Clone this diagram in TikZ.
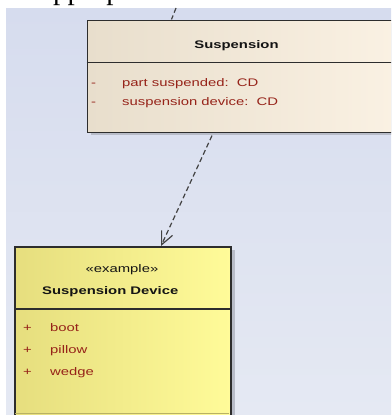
\documentclass[tikz,border=0pt]{standalone}
\usepackage{fontspec}
\newfontfamily\umlfont[FakeStretch=1.35]{Liberation Sans}
\newfontfamily\docserif{Liberation Serif}
\usetikzlibrary{arrows.meta,calc}
\definecolor{bgtop}{RGB}{214,220,238}
\definecolor{bgbot}{RGB}{229,233,243}
\definecolor{suspL}{RGB}{232,222,204}
\definecolor{suspR}{RGB}{251,242,228}
\definecolor{devL}{RGB}{230,222,126}
\definecolor{devR}{RGB}{255,251,153}
\definecolor{borderc}{RGB}{45,45,45}
\definecolor{shadowc}{RGB}{184,188,200}
\definecolor{attrc}{RGB}{150,35,25}
\definecolor{namec}{RGB}{20,20,20}
\definecolor{olivec}{RGB}{185,178,100}
\tikzset{
  classbox/.style={draw=borderc, line width=1.6pt, rectangle, inner sep=0pt, anchor=north west},
  sepline/.style={draw=borderc, line width=1.3pt},
  txt/.style={inner sep=0pt, anchor=base west, font=\umlfont\fontsize{11}{13}\selectfont},
  nametxt/.style={txt, text=namec, font=\umlfont\bfseries\fontsize{11}{13}\selectfont},
  attrtxt/.style={txt, text=attrc},
  deparrow/.style={draw=borderc!90, line width=1.2pt, dash pattern=on 5pt off 3pt, -{Straight Barb[length=13pt,width=12pt,line width=1.2pt]}},
  depline/.style={draw=borderc!90, line width=1.2pt, dash pattern=on 5pt off 3pt}
}
\begin{document}
\begin{tikzpicture}[x=1pt,y=-1pt]
\useasboundingbox (0,0) rectangle (391,415);
\clip (0,0) rectangle (391,415);
\fill[white] (0,0) rectangle (391,415);
% cut-off surrounding text at the very top
\begin{scope}
  \clip (0,0) rectangle (391,8);
  \node[inner sep=0pt, anchor=base west, font=\docserif\fontsize{29}{32}\selectfont] (frag) at (20,-0.5) {e appropriate.};
\end{scope}
% diagram background
\shade[top color=bgtop, bottom color=bgbot] (6,8) rectangle (391,415);
% shadows
\fill[shadowc] (91,23) rectangle (411,134.5);
\fill[shadowc] (18,250) rectangle (234.5,430);
% Suspension class
\node[classbox, left color=suspL, right color=suspR, minimum width=320pt, minimum height=112pt] (susp) at (86.5,19.5) {};
\draw[sepline] (86.5,62.5) -- (407,62.5);
\node[nametxt, anchor=base] (suspname) at (236.5,48) {Suspension};
\node[attrtxt] (m1) at (91,86) {-};
\node[attrtxt] (a1) at (122,86) {part suspended:\ \ CD};
\node[attrtxt] (m2) at (91,105) {-};
\node[attrtxt] (a2) at (122,105) {suspension device:\ \ CD};
% Suspension Device class
\node[classbox, left color=devL, right color=devR, minimum width=216pt, minimum height=190pt] (dev) at (14,246) {};
\draw[sepline] (14,309) -- (230,309);
\draw[draw=olivec, line width=1.2pt] (15,413.8) -- (229,413.8);
\node[attrtxt, text=namec, anchor=base] (stereo) at (122,272) {«example»};
\node[nametxt] (devname) at (42,294) {Suspension Device};
\node[attrtxt] (p1) at (23,331) {+};
\node[attrtxt] (b1) at (50,331) {boot};
\node[attrtxt] (p2) at (23,353) {+};
\node[attrtxt] (b2) at (50,353) {pillow};
\node[attrtxt] (p3) at (23,375) {+};
\node[attrtxt] (b3) at (50,375) {wedge};
% connectors
\coordinate (inc) at (176,8);
\draw[depline] (inc) -- ([xshift=85pt]susp.north west);
\draw[deparrow] ([xshift=125.5pt,yshift=-2.5pt]susp.south west) -- ([xshift=147pt]dev.north west);
\end{tikzpicture}
\end{document}
